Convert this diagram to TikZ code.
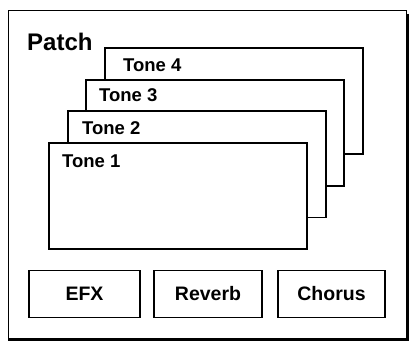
\documentclass[tikz,border=0pt]{standalone}
\usepackage{fontspec}
\setmainfont{Liberation Sans}
\begin{document}
\begin{tikzpicture}[x=1pt,y=-1pt,
  tonebox/.style={draw=black,line width=1.6pt,fill=white,anchor=north west,
    minimum width=258pt,minimum height=106pt,inner sep=0pt},
  tonelabel/.style={anchor=base west,inner sep=0pt,font=\fontsize{18.5}{20}\selectfont\bfseries},
  fxbox/.style={draw=black,line width=1.5pt,fill=white,inner sep=0pt,
    minimum width=110pt,minimum height=47pt,font=\fontsize{19.5}{22}\selectfont\bfseries},
  outer/.style={draw=black,line width=1.3pt}]
\useasboundingbox (0,0) rectangle (410,345);
% outer patch frame
\node[outer,anchor=north west,minimum width=398pt,minimum height=328pt,inner sep=0pt] (patch) at (8,10) {};
\draw[line width=2.6pt] (patch.north east) ++(0,4) -- (patch.south east) -- (patch.south west);
\node[anchor=base west,inner sep=0pt,font=\fontsize{24}{28}\selectfont\bfseries] (ptitle) at (27,50.5) {Patch};
% tones, back to front
\node[tonebox] (t4) at (104,47) {};
\node[tonelabel] (l4) at (123,71.5) {Tone 4};
\node[tonebox] (t3) at (85,79) {};
\node[tonelabel] (l3) at (99,101.5) {Tone 3};
\node[tonebox] (t2) at (67,110.5) {};
\node[tonelabel] (l2) at (82,135) {Tone 2};
\node[tonebox] (t1) at (48,142) {};
\node[tonelabel] (l1) at (62,167) {Tone 1};
% effects
\node[fxbox,minimum width=111pt] (efx) at (84.5,294) {EFX};
\node[fxbox,minimum width=108pt] (rev) at (208,294) {Reverb};
\node[fxbox,minimum width=107pt] (cho) at (331.5,294) {Chorus};
\end{tikzpicture}
\end{document}
